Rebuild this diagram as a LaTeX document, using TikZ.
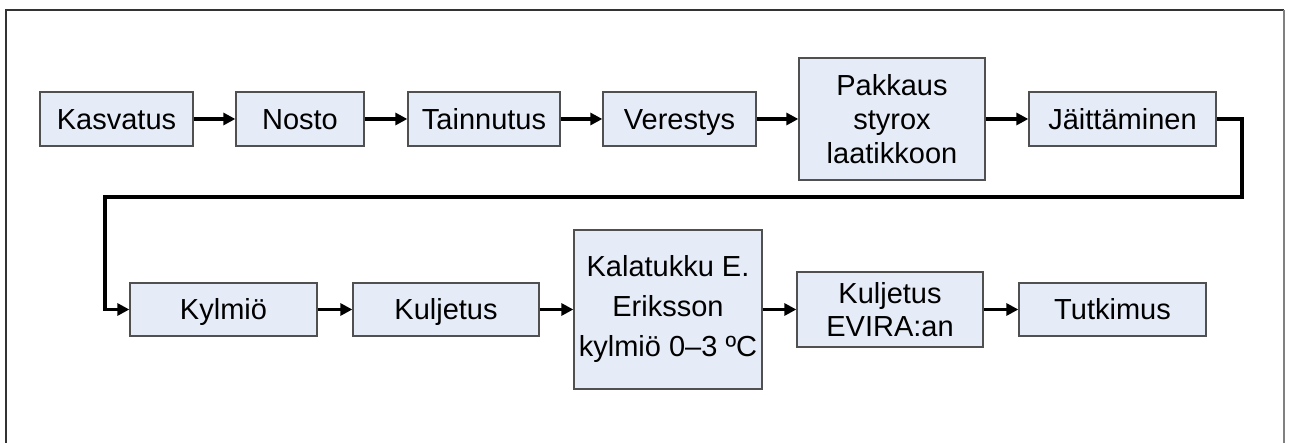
\documentclass[tikz,border=0pt]{standalone}
\usepackage{fontspec}
\setmainfont{Liberation Sans}
\usetikzlibrary{arrows.meta}
\definecolor{boxfill}{RGB}{230,236,247}
\definecolor{boxline}{RGB}{80,80,80}
\begin{document}
\begin{tikzpicture}[x=1pt,y=-1pt,
  stepbox/.style={draw=boxline,line width=1.3pt,fill=boxfill,inner sep=0pt,align=center,
    font=\fontsize{29}{34}\selectfont,minimum height=54pt},
  oneline/.style={text height=21pt,text depth=0pt},
  flow/.style={line width=3.2pt,-{Triangle[length=12pt,width=12pt]}}]
\useasboundingbox (0,0) rectangle (1291,443);
\draw[line width=1.2pt,draw=black!80] (6,443) -- (6,10) -- (1284,10);
\draw[line width=2pt,draw=black!50] (1284,10) -- (1284,443);
% row 1
\node[stepbox,oneline,minimum width=153pt] (kas) at (116.5,119) {Kasvatus};
\node[stepbox,oneline,minimum width=128pt] (nos) at (300,119) {Nosto};
\node[stepbox,oneline,minimum width=152pt] (tai) at (484,119) {Tainnutus};
\node[stepbox,oneline,minimum width=153pt] (ver) at (679.5,119) {Verestys};
\node[stepbox,minimum width=186pt,minimum height=122pt] (pak) at (892,119) {Pakkaus\\styrox\\laatikkoon};
\node[stepbox,oneline,minimum width=187pt] (jai) at (1122.5,119) {Jäittäminen};
% row 2
\node[stepbox,oneline,minimum width=187pt,minimum height=53pt] (kyl) at (223.5,309.5) {Kylmiö};
\node[stepbox,oneline,minimum width=186pt,minimum height=53pt] (kul) at (446,309.5) {Kuljetus};
\node[stepbox,minimum width=188pt,minimum height=159pt,font=\fontsize{29}{40}\selectfont] (kal) at (668,309.5) {Kalatukku E.\\Eriksson\\kylmiö 0–3 ºC};
\node[stepbox,minimum width=186pt,minimum height=75pt,font=\fontsize{29}{33}\selectfont] (eva) at (890,309.5) {Kuljetus\\EVIRA:an};
\node[stepbox,oneline,minimum width=187pt,minimum height=53pt] (tut) at (1112.5,309.5) {Tutkimus};
\coordinate (r1) at (1242,119);
\coordinate (r2) at (1242,197);
\coordinate (r3) at (105,197);
\coordinate (r4) at (105,309.5);
\draw[flow] (kas) -- (nos);
\draw[flow] (nos) -- (tai);
\draw[flow] (tai) -- (ver);
\draw[flow] (ver) -- (pak);
\draw[flow] (pak) -- (jai);
\draw[flow] (jai.east) -- (r1) -- (r2) -- (r3) -- (r4) -- (kyl.west);
\draw[flow] (kyl) -- (kul);
\draw[flow] (kul) -- (kal);
\draw[flow] (kal) -- (eva);
\draw[flow] (eva) -- (tut);
\end{tikzpicture}
\end{document}
